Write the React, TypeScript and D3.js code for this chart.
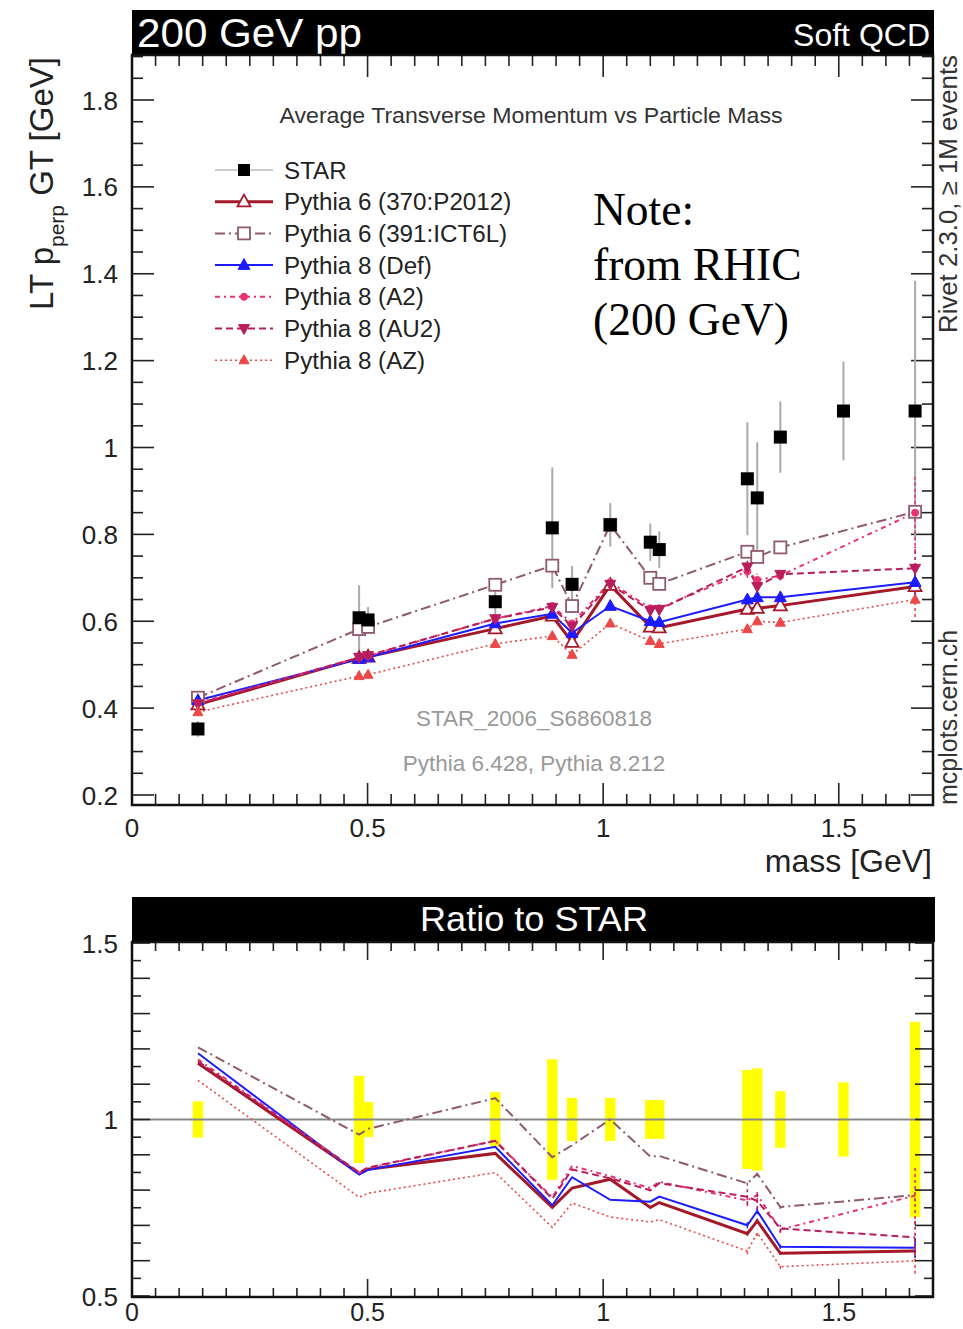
import React from 'react';
import * as d3 from 'd3';

// ---------- data ----------
const masses = [0.140, 0.482, 0.501, 0.771, 0.892, 0.934, 1.015, 1.100, 1.119, 1.306, 1.327, 1.376, 1.510, 1.662];
const starValues = [0.352, 0.608, 0.603, 0.645, 0.815, 0.685, 0.822, 0.782, 0.765, 0.928, 0.884, 1.024, 1.084, 1.084];
const starErrors = [0.018, 0.075, 0.030, 0.050, 0.139, 0.042, 0.050, 0.043, 0.042, 0.130, 0.128, 0.082, 0.114, 0.300];

const p6_370 = [0.408, 0.515, 0.518, 0.583, 0.612, 0.552, 0.683, 0.587, 0.585, 0.628, 0.630, 0.636, null, 0.680];
const p6_391 = [0.424, 0.582, 0.587, 0.684, 0.728, 0.635, 0.822, 0.700, 0.686, 0.760, 0.748, 0.770, null, 0.852];
const p8_def = [0.418, 0.513, 0.517, 0.595, 0.617, 0.573, 0.635, 0.600, 0.598, 0.650, 0.655, 0.655, null, 0.690];
const p8_a2 = [0.412, 0.516, 0.520, 0.606, 0.635, 0.595, 0.690, 0.630, 0.630, 0.715, 0.695, 0.705, null, 0.850];
const p8_au2 = [0.410, 0.517, 0.521, 0.606, 0.632, 0.588, 0.685, 0.625, 0.627, 0.725, 0.680, 0.708, null, 0.722];
const p8_az = [0.391, 0.474, 0.477, 0.548, 0.566, 0.523, 0.595, 0.555, 0.548, 0.582, 0.600, 0.597, null, 0.650];

const p6_370_err = [0, 0, 0, 0, 0, 0, 0, 0, 0, 0.006, 0.006, 0.005, null, 0.02];
const p6_391_err = [0, 0, 0, 0, 0, 0, 0, 0, 0, 0.006, 0.006, 0.005, null, 0.02];
const p8_def_err = [0, 0, 0, 0, 0, 0, 0, 0, 0, 0.008, 0.008, 0.006, null, 0.03];
const p8_a2_err = [0, 0, 0, 0, 0, 0, 0, 0, 0, 0.015, 0.015, 0.01, null, 0.09];
const p8_au2_err = [0, 0, 0, 0, 0, 0, 0, 0, 0, 0.02, 0.02, 0.01, null, 0.05];
const p8_az_err = [0, 0, 0, 0, 0, 0, 0, 0, 0, 0.008, 0.008, 0.006, null, 0.04];

const seriesNames = ['Pythia 6 (370:P2012)', 'Pythia 6 (391:ICT6L)', 'Pythia 8 (Def)', 'Pythia 8 (A2)', 'Pythia 8 (AU2)', 'Pythia 8 (AZ)'];
const seriesValues = [p6_370, p6_391, p8_def, p8_a2, p8_au2, p8_az];
const seriesErrors = [p6_370_err, p6_391_err, p8_def_err, p8_a2_err, p8_au2_err, p8_az_err];

const xTicksMajor = [0, 0.5, 1, 1.5];
const yTicksMain = [0.2, 0.4, 0.6, 0.8, 1, 1.2, 1.4, 1.6, 1.8];
const yTicksRatio = [0.5, 1, 1.5];

// ---------- styles ----------
const styles = [
  { color: '#a5182a', dash: '', width: 3, marker: 'tri', open: true, size: 13 },
  { color: '#8e5a6c', dash: '10,4,2,4', width: 2, marker: 'sq', open: true, size: 12 },
  { color: '#1c1cff', dash: '', width: 2, marker: 'tri', open: false, size: 12 },
  { color: '#e8336e', dash: '5,4,2,4', width: 2, marker: 'circ', open: false, size: 7 },
  { color: '#b81e5e', dash: '7,4', width: 2, marker: 'triDown', open: false, size: 11 },
  { color: '#ec4848', dash: '2,3', width: 1.6, marker: 'tri', open: false, size: 10 },
];

const FONT = 'Liberation Sans, Arial, Helvetica, sans-serif';
const W = 963, H = 1329;
const FX0 = 132, FX1 = 933;
const MT = 55, MB = 805;
const RT = 942, RB = 1297;

const xScale = d3.scaleLinear().domain([0, 1.7]).range([FX0, FX1]);
const yScale = d3.scaleLinear().domain([0.2, 1.8]).range([795, 100]);
const rScale = d3.scaleLinear().domain([0.5, 1.5]).range([1296, 943]);

function Marker({ type, x, y, size, color, open }: any) {
  const fill = open ? '#fff' : color;
  const sw = open ? 1.8 : 1;
  if (type === 'sq') {
    return <rect x={x - size / 2} y={y - size / 2} width={size} height={size} fill={fill} stroke={color} strokeWidth={sw} />;
  }
  if (type === 'circ') {
    return <circle cx={x} cy={y} r={size / 2} fill={fill} stroke={color} strokeWidth={sw} />;
  }
  const h = size * 0.9;
  const down = type === 'triDown';
  const pts = down
    ? [[x - size / 2, y - h * 0.4], [x + size / 2, y - h * 0.4], [x, y + h * 0.6]]
    : [[x - size / 2, y + h * 0.4], [x + size / 2, y + h * 0.4], [x, y - h * 0.6]];
  return <polygon points={pts.map(p => p.join(',')).join(' ')} fill={fill} stroke={color} strokeWidth={sw} strokeLinejoin="miter" />;
}

function Ticks({ top, bottom, yTicksMaj, yTicksMin, ys, majLen, minLen, yMajLen, yMinLen }: any) {
  const out: any[] = [];
  const minorX = d3.range(0, 1.7001, 0.05);
  minorX.forEach((v, i) => {
    const isMaj = xTicksMajor.some(m => Math.abs(m - v) < 1e-6);
    const L = isMaj ? majLen : minLen;
    const px = xScale(v);
    out.push(<line key={'xb' + i} x1={px} x2={px} y1={bottom} y2={bottom - L} stroke="#222" strokeWidth={1.6} />);
    out.push(<line key={'xt' + i} x1={px} x2={px} y1={top} y2={top + L} stroke="#222" strokeWidth={1.6} />);
  });
  yTicksMin.forEach((v: number, i: number) => {
    const isMaj = yTicksMaj.some((m: number) => Math.abs(m - v) < 1e-6);
    const L = isMaj ? yMajLen : yMinLen;
    const py = ys(v);
    out.push(<line key={'yl' + i} x1={FX0} x2={FX0 + L} y1={py} y2={py} stroke="#222" strokeWidth={1.6} />);
    out.push(<line key={'yr' + i} x1={FX1} x2={FX1 - L} y1={py} y2={py} stroke="#222" strokeWidth={1.6} />);
  });
  return <g>{out}</g>;
}

export default function App() {
  const mainLine = d3.line<any>().defined(d => d.v != null).x(d => xScale(d.x)).y(d => yScale(d.v));
  const ratioLine = d3.line<any>().defined(d => d.v != null).x(d => xScale(d.x)).y(d => rScale(d.v));

  const mainYMinor = d3.range(0.2, 1.9001, 0.05).filter(v => yScale(v) >= MT - 0.5);
  const mainYMajor = d3.range(0.2, 1.9001, 0.2);
  const ratioYMinor = d3.range(0.5, 1.5001, 0.05);
  const ratioYMajor = d3.range(0.5, 1.5001, 0.1);

  const legendRows = ['STAR', ...seriesNames];
  const legendY = (i: number) => 170 + i * 31.7;

  return (
    <svg width={W} height={H} style={{ position: 'absolute', left: 0, top: 0, background: '#fff' }} fontFamily={FONT}>
      <rect x={0} y={0} width={W} height={H} fill="#fff" />

      {/* ===== main panel ===== */}
      <rect x={FX0} y={10} width={FX1 - FX0 + 1} height={MT - 10} fill="#000" />
      <text x={137} y={47} fontSize={41} fill="#fff" textLength={225} lengthAdjust="spacingAndGlyphs">200 GeV pp</text>
      <text x={930} y={46} fontSize={32} fill="#fff" textAnchor="end">Soft QCD</text>

      <Ticks top={MT} bottom={MB} yTicksMaj={mainYMajor} yTicksMin={mainYMinor} ys={yScale} majLen={22} minLen={11} yMajLen={22} yMinLen={11} />

      {/* y tick labels */}
      {yTicksMain.map(v => (
        <text key={'yl' + v} x={118} y={yScale(v) + 9.5} fontSize={26} fill="#222" textAnchor="end">{String(v)}</text>
      ))}
      {xTicksMajor.map(v => (
        <text key={'xl' + v} x={xScale(v)} y={837} fontSize={26} fill="#222" textAnchor="middle">{String(v)}</text>
      ))}

      <text x={932} y={872} fontSize={32} fill="#222" textAnchor="end">mass [GeV]</text>
      <text transform="translate(53,310) rotate(-90)" fontSize={33} fill="#222">
        LT p<tspan dy={11} fontSize={21}>perp</tspan><tspan dy={-11}> GT [GeV]</tspan>
      </text>

      <text x={531} y={123} fontSize={22.5} fill="#333" textAnchor="middle" textLength={503} lengthAdjust="spacingAndGlyphs">Average Transverse Momentum vs Particle Mass</text>
      <text x={534} y={726} fontSize={22.5} fill="#999" textAnchor="middle">STAR_2006_S6860818</text>
      <text x={534} y={771} fontSize={22.5} fill="#999" textAnchor="middle">Pythia 6.428, Pythia 8.212</text>

      <text transform="translate(957,333) rotate(-90)" fontSize={25} fill="#333" textLength={278} lengthAdjust="spacingAndGlyphs">Rivet 2.3.0, ≥ 1M events</text>
      <text transform="translate(957,805) rotate(-90)" fontSize={25} fill="#333">mcplots.cern.ch</text>

      {/* STAR error bars */}
      {masses.map((m, i) => (
        <line key={'se' + i} x1={xScale(m)} x2={xScale(m)} y1={yScale(starValues[i] - starErrors[i])} y2={yScale(starValues[i] + starErrors[i])} stroke="#aaa" strokeWidth={2} />
      ))}

      {/* MC lines */}
      {seriesValues.map((vals, s) => {
        const st = styles[s];
        const data = masses.map((m, i) => ({ x: m, v: vals[i] })).filter(d => d.v != null);
        return (
          <g key={'mc' + s}>
            <path d={mainLine(data) || ''} fill="none" stroke={st.color} strokeWidth={st.width} strokeDasharray={st.dash} />
            {masses.map((m, i) => {
              const v = vals[i];
              const e = seriesErrors[s][i];
              if (v == null || !e) return null;
              return <line key={'me' + i} x1={xScale(m)} x2={xScale(m)} y1={yScale(v - e)} y2={yScale(v + e)} stroke={st.color} strokeWidth={1.6} strokeDasharray={st.dash ? '3,3' : ''} />;
            })}
          </g>
        );
      })}
      {seriesValues.map((vals, s) => {
        const st = styles[s];
        return (
          <g key={'mk' + s}>
            {masses.map((m, i) => vals[i] == null ? null : (
              <Marker key={i} type={st.marker} x={xScale(m)} y={yScale(vals[i] as number)} size={st.size} color={st.color} open={st.open} />
            ))}
          </g>
        );
      })}

      {/* STAR points */}
      {masses.map((m, i) => (
        <rect key={'sp' + i} x={xScale(m) - 6.5} y={yScale(starValues[i]) - 6.5} width={13} height={13} fill="#000" />
      ))}

      {/* legend */}
      {legendRows.map((name, i) => {
        const y = legendY(i);
        const st = i === 0 ? null : styles[i - 1];
        return (
          <g key={'lg' + i}>
            {st ? (
              <>
                <line x1={215} x2={273} y1={y} y2={y} stroke={st.color} strokeWidth={st.width} strokeDasharray={st.dash} />
                <Marker type={st.marker} x={244} y={y} size={st.size} color={st.color} open={st.open} />
              </>
            ) : (
              <>
                <line x1={215} x2={273} y1={y} y2={y} stroke="#ccc" strokeWidth={2} />
                <rect x={238} y={y - 6} width={12} height={12} fill="#000" />
              </>
            )}
            <text x={284} y={y + 8.5} fontSize={24.2} fill="#222">{name}</text>
          </g>
        );
      })}

      <rect x={FX0} y={MT} width={FX1 - FX0} height={MB - MT} fill="none" stroke="#111" strokeWidth={2.5} />

      {/* Note */}
      <g fontFamily="Liberation Serif, Times New Roman, serif" fontSize={45.5} fill="#000">
        <text x={593} y={225}>Note:</text>
        <text x={593} y={280}>from RHIC</text>
        <text x={593} y={335}>(200 GeV)</text>
      </g>

      {/* ===== ratio panel ===== */}
      <rect x={FX0} y={897} width={FX1 - FX0 + 2} height={RT - 897} fill="#000" />
      <text x={534} y={931} fontSize={35} fill="#fff" textAnchor="middle" textLength={228} lengthAdjust="spacingAndGlyphs">Ratio to STAR</text>

      {/* yellow bands */}
      {masses.map((m, i) => {
        const rel = starErrors[i] / starValues[i];
        return <rect key={'yb' + i} x={xScale(m - 0.011)} y={rScale(1 + rel)} width={xScale(m + 0.011) - xScale(m - 0.011)} height={rScale(1 - rel) - rScale(1 + rel)} fill="#ffff00" />;
      })}
      <line x1={FX0} x2={FX1} y1={rScale(1)} y2={rScale(1)} stroke="#888" strokeWidth={2} />

      {seriesValues.map((vals, s) => {
        const st = styles[s];
        const data = masses.map((m, i) => ({ x: m, v: vals[i] == null ? null : (vals[i] as number) / starValues[i] })).filter(d => d.v != null);
        return (
          <g key={'rl' + s}>
            <path d={ratioLine(data) || ''} fill="none" stroke={st.color} strokeWidth={st.width} strokeDasharray={st.dash} />
            {masses.map((m, i) => {
              const v = vals[i];
              const e = seriesErrors[s][i];
              if (v == null || !e) return null;
              const r = v / starValues[i];
              const re = e / starValues[i];
              return <line key={'re' + i} x1={xScale(m)} x2={xScale(m)} y1={rScale(r - re)} y2={rScale(r + re)} stroke={st.color} strokeWidth={1.6} strokeDasharray={st.dash ? '3,3' : ''} />;
            })}
          </g>
        );
      })}

      <Ticks top={RT} bottom={RB} yTicksMaj={ratioYMajor} yTicksMin={ratioYMinor} ys={rScale} majLen={18} minLen={9} yMajLen={18} yMinLen={9} />
      <rect x={FX0} y={RT} width={FX1 - FX0} height={RB - RT} fill="none" stroke="#111" strokeWidth={2.5} />

      {yTicksRatio.map(v => (
        <text key={'ryl' + v} x={118} y={rScale(v) + 9.5} fontSize={26} fill="#222" textAnchor="end">{String(v)}</text>
      ))}
      {xTicksMajor.map(v => (
        <text key={'rxl' + v} x={xScale(v)} y={1321} fontSize={25} fill="#222" textAnchor="middle">{String(v)}</text>
      ))}
    </svg>
  );
}
